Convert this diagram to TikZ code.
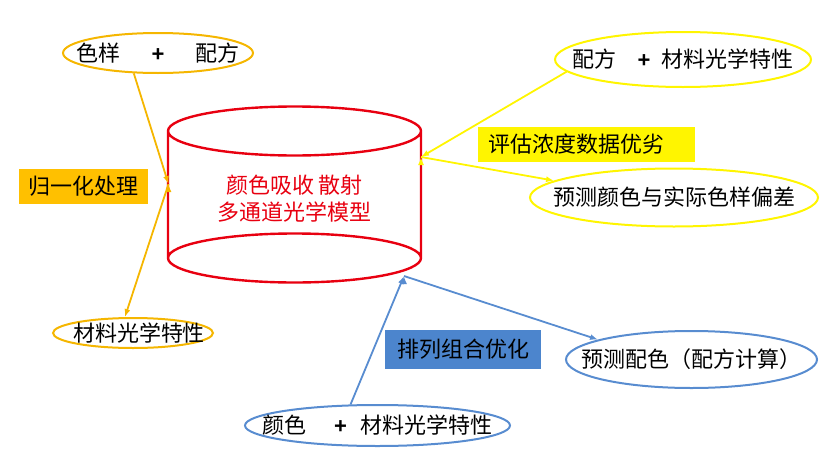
\documentclass[tikz,border=0pt]{standalone}
\usepackage{fontspec}
\setmainfont{Noto Sans CJK SC}
\newfontfamily\plusfont{Liberation Sans}
\usetikzlibrary{positioning,shapes.geometric,arrows.meta}
\definecolor{gold}{RGB}{245,182,0}
\definecolor{boxgold}{RGB}{255,192,0}
\definecolor{lemon}{RGB}{255,245,0}
\definecolor{steel}{RGB}{88,140,208}
\definecolor{boxsteel}{RGB}{76,133,205}
\definecolor{modelred}{RGB}{232,0,16}
\tikzstyle{oval}=[ellipse,draw,line width=2pt,inner sep=0pt]
\tikzstyle{tag}=[inner sep=0pt,minimum height=35pt]
\tikzstyle{link}=[line width=1.8pt,-{Latex[length=8pt,width=6pt]}]
\newcommand{\plus}{{\plusfont\bfseries +}}

\begin{document}
\begin{tikzpicture}[x=1pt,y=-1pt,font=\fontsize{22}{27}\selectfont]
  \useasboundingbox (0,0) rectangle (820,450);

  % the model
  \draw[modelred,line width=2.4pt]
    (294.5,131) ellipse [x radius=126.5pt,y radius=24.5pt]
    (294.5,258) ellipse [x radius=126.5pt,y radius=24.5pt]
    (168,131) -- (168,258)
    (421,131) -- (421,258);
  \node(model)[align=center,text=modelred] at (294.5,198.5) {颜色吸收 散射\\多通道光学模型};
  \coordinate(mL) at (168.5,184);
  \coordinate(mR) at (421,157);
  \coordinate(mB) at (404,276);

  % left
  \node(sample)[oval,draw=gold,minimum width=190pt,minimum height=40pt,
    label={center:色样\hspace{1.4em}\plus\hspace{1.4em}配方}] at (158,53) {};
  \node(optic)[oval,draw=gold,minimum width=160pt,minimum height=30pt,
    label={[xshift=6pt]center:材料光学特性}] at (133,333) {};
  \node(norm)[tag,fill=boxgold,minimum width=129pt] at (83.5,186.5) {归一化处理};
  \path[draw,link,gold]
    (sample.220) edge (mL)
    (mL) edge (optic.117);

  % right
  \node(formula)[oval,draw=lemon,minimum width=256pt,minimum height=55pt,
    label={center:配方\hspace{0.95em}\plus\hspace{0.5em}材料光学特性}] at (683,59.5) {};
  \node(deviation)[oval,draw=lemon,minimum width=288pt,minimum height=58pt,
    label={center:预测颜色与实际色样偏差}] at (674,197.5) {};
  \node(assess)[tag,fill=lemon,minimum width=217pt,text width=197pt,align=left] at (586.5,144.5) {评估浓度数据优劣};
  \path[draw,link,lemon]
    (formula.186) edge (mR)
    (mR) edge (deviation.172);

  % bottom
  \node(mix)[oval,draw=steel,minimum width=265pt,minimum height=41pt,
    label={center:颜色\hspace{1.25em}\plus\hspace{0.6em}材料光学特性}] at (377.5,425.5) {};
  \node(recipe)[oval,draw=steel,minimum width=251pt,minimum height=57pt,
    label={center:预测配色（配方计算）}] at (691.5,359.5) {};
  \node(optimize)[tag,fill=boxsteel,minimum width=156pt,minimum height=39pt] at (463,349.5) {排列组合优化};
  \path[draw,link,steel]
    (mix.142) edge (mB)
    (mB) edge (recipe.168);
\end{tikzpicture}
\end{document}
